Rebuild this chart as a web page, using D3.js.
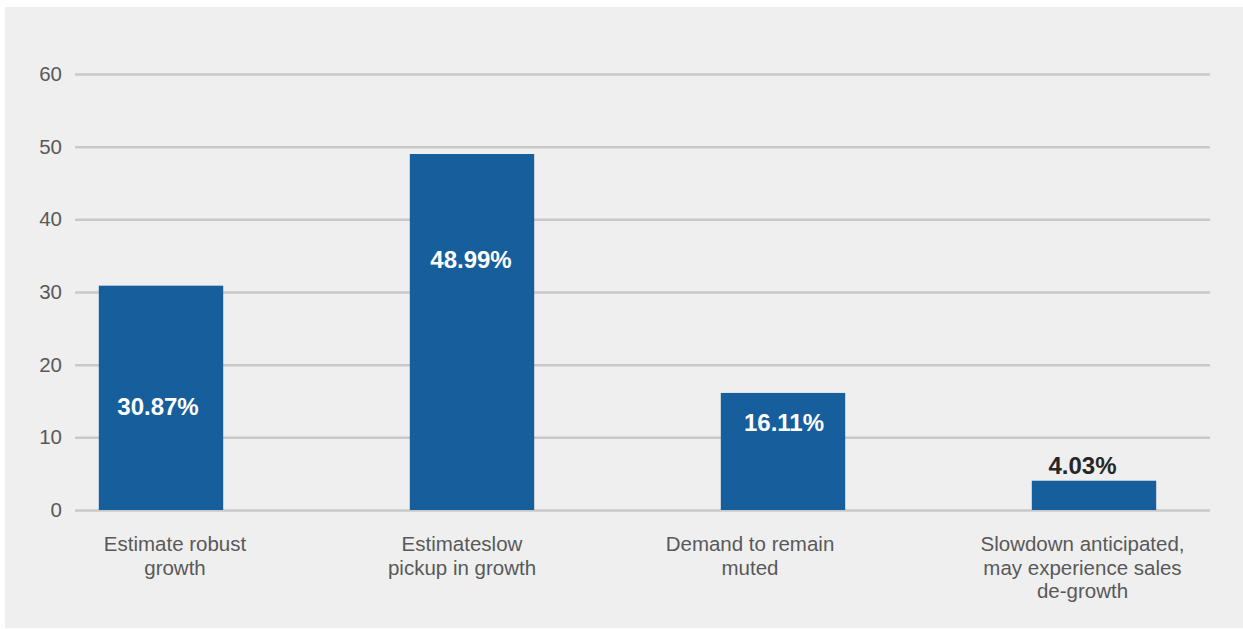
<!DOCTYPE html>
<html>
<head>
<meta charset="utf-8">
<script src="https://cdn.jsdelivr.net/npm/d3@7"></script>
<style>
  html, body { margin: 0; padding: 0; background: #ffffff; }
  svg { display: block; font-family: "Liberation Sans", Arial, sans-serif; }
</style>
</head>
<body>
<svg id="chart" width="1243" height="629"></svg>
<script>
// Survey responses on the sales outlook
const categories = [
  ["Estimate robust", "growth"],
  ["Estimateslow", "pickup in growth"],
  ["Demand to remain", "muted"],
  ["Slowdown anticipated,", "may experience sales", "de-growth"]
];
const values = [30.87, 48.99, 16.11, 4.03];
const valueLabels = ["30.87%", "48.99%", "16.11%", "4.03%"];
const yTicks = [0, 10, 20, 30, 40, 50, 60];

// Label placement tweaks (px): value-label baseline below bar top,
// horizontal nudges for value labels and category labels
const labelOffsets = [129, 114, 38.5, -7];
const labelInside = [true, true, true, false];
const labelShiftX = [-3, -1, 1, -11.5];
const categoryShiftX = [14, -10, -33, -11.5];

const svg = d3.select("#chart");
const W = 1243, H = 629;

// Panel background
svg.append("rect")
  .attr("x", 5).attr("y", 7)
  .attr("width", W - 5).attr("height", 621)
  .attr("fill", "#efefef");

const plot = { left: 75, right: 1210, top: 74, bottom: 510 };

const y = d3.scaleLinear()
  .domain([0, 60])
  .range([plot.bottom, plot.top]);

const x = d3.scaleBand()
  .domain(d3.range(values.length))
  .range([5.5, 1249.5])
  .paddingInner(0.6)
  .paddingOuter(0.3);

// Horizontal gridlines with left-side labels
const yAxis = d3.axisLeft(y)
  .tickValues(yTicks)
  .tickSize(-(plot.right - plot.left))
  .tickPadding(13)
  .tickFormat(d3.format("d"));

const gy = svg.append("g")
  .attr("transform", `translate(${plot.left},0)`)
  .call(yAxis);
gy.select(".domain").remove();
gy.selectAll(".tick line")
  .attr("stroke", "#c9c9c9")
  .attr("stroke-width", 2.5);
gy.selectAll(".tick text")
  .attr("fill", "#595959")
  .attr("font-size", "20.5px")
  .attr("font-family", "'Liberation Sans', Arial, sans-serif");

// Bars
svg.append("g")
  .selectAll("rect")
  .data(values)
  .join("rect")
  .attr("x", (d, i) => x(i))
  .attr("y", d => y(d))
  .attr("width", x.bandwidth())
  .attr("height", d => y(0) - y(d))
  .attr("fill", "#165e9c");

// Value labels
svg.append("g")
  .selectAll("text")
  .data(values)
  .join("text")
  .attr("x", (d, i) => x(i) + x.bandwidth() / 2 + labelShiftX[i])
  .attr("y", (d, i) => y(d) + labelOffsets[i])
  .attr("text-anchor", "middle")
  .attr("font-size", "24px")
  .attr("font-weight", "bold")
  .attr("fill", (d, i) => labelInside[i] ? "#ffffff" : "#262626")
  .text((d, i) => valueLabels[i]);

// Category labels (multi-line)
const cat = svg.append("g")
  .selectAll("text")
  .data(categories)
  .join("text")
  .attr("x", (d, i) => x(i) + x.bandwidth() / 2 + categoryShiftX[i])
  .attr("y", 551)
  .attr("text-anchor", "middle")
  .attr("font-size", "20.5px")
  .attr("fill", "#595959");
cat.selectAll("tspan")
  .data(d => d)
  .join("tspan")
  .attr("x", function () { return d3.select(this.parentNode).attr("x"); })
  .attr("dy", (d, i) => i === 0 ? 0 : 23.5)
  .text(d => d);
</script>
</body>
</html>
